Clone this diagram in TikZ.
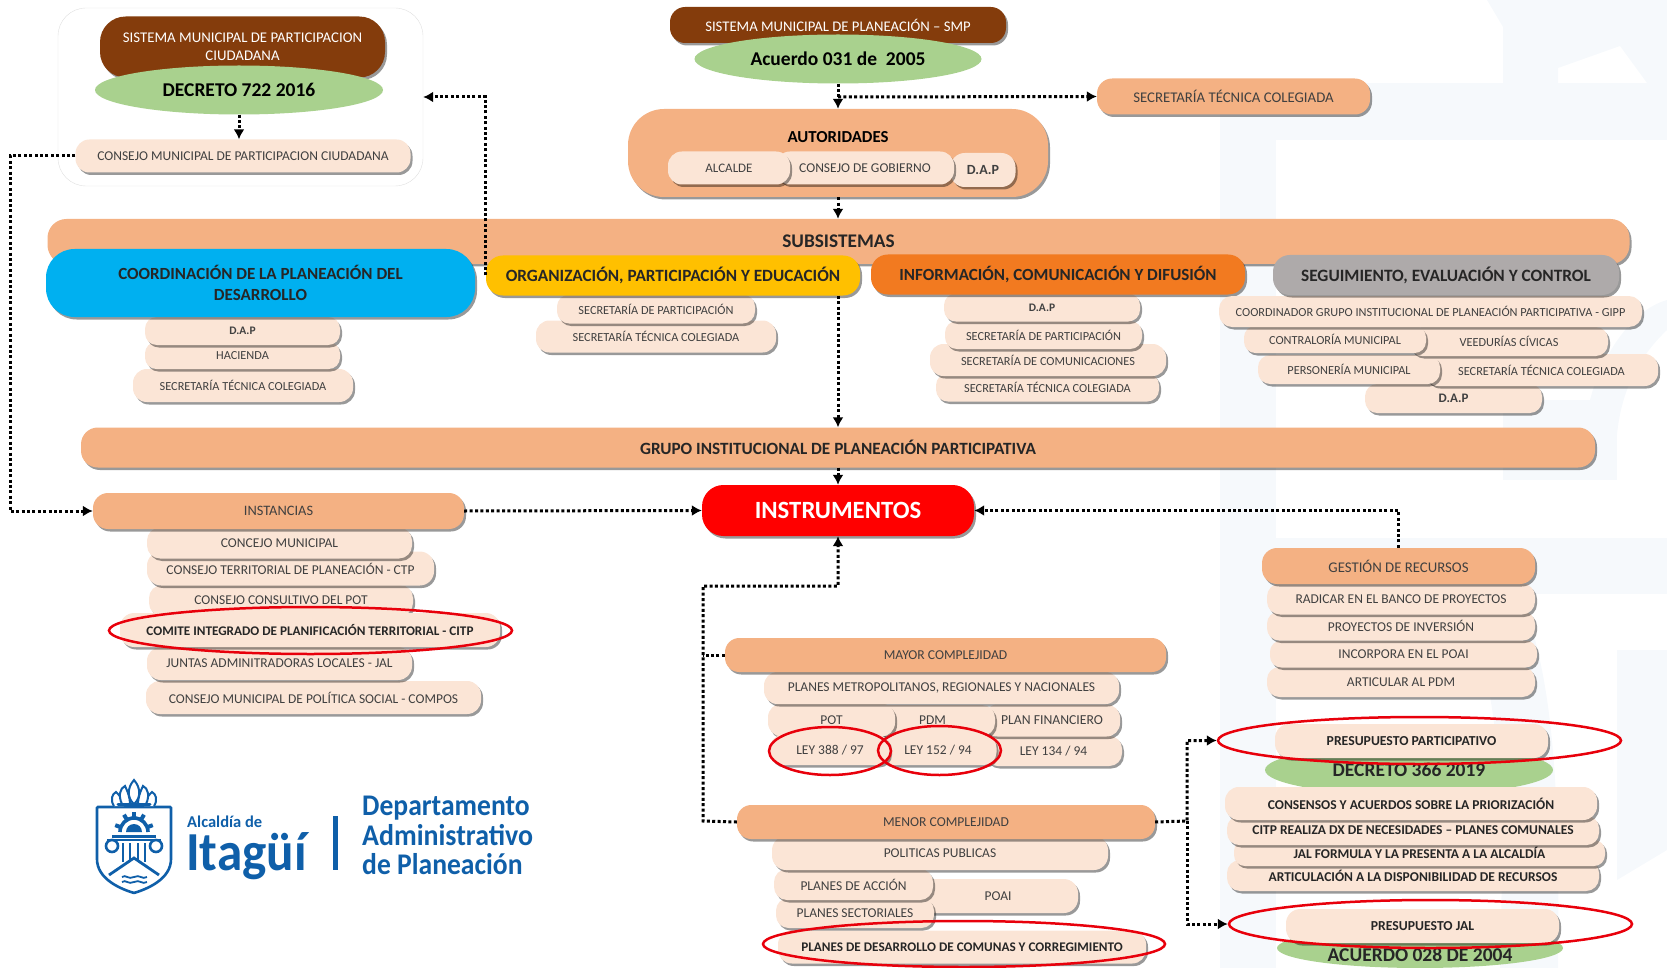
\documentclass[tikz,border=0pt]{standalone}
\usepackage{graphicx}
\usepackage{fontspec}
\setmainfont{Carlito}
\usetikzlibrary{arrows.meta,shapes.geometric,shadows}
\definecolor{apricot}{HTML}{F4B183}
\definecolor{peach}{HTML}{FBE5D6}
\definecolor{bark}{HTML}{843C0C}
\definecolor{leaf}{HTML}{A9D18E}
\definecolor{sky}{HTML}{00B0F0}
\definecolor{sun}{HTML}{FFC000}
\definecolor{tangerine}{HTML}{F27A20}
\definecolor{stone}{HTML}{AEAAAA}
\definecolor{ringred}{HTML}{E8000B}
\definecolor{itablue}{HTML}{0F5FA9}
\definecolor{ghost}{HTML}{F6F9FC}
\definecolor{inkgray}{HTML}{404040}
\tikzset{
  fs/.style={font=\fontsize{#1pt}{1.25\dimexpr#1pt\relax}\selectfont},
  fsb/.style={font=\fontsize{#1pt}{1.25\dimexpr#1pt\relax}\selectfont\bfseries},
  pill/.style 2 args={rectangle,inner sep=0pt,align=center,minimum width=#1,minimum height=#2,
    rounded corners=0.42*#2,
    drop shadow={shadow xshift=2pt,shadow yshift=-2.5pt,fill=black,opacity=0.4}},
  soft/.style 2 args={pill={#1}{#2},fill=peach,text=inkgray},
  head/.style 2 args={pill={#1}{#2},fill=apricot,text=inkgray},
  oval/.style 2 args={ellipse,inner sep=0pt,minimum width=#1,minimum height=#2,fill=leaf},
  ring/.style 2 args={ellipse,inner sep=0pt,minimum width=#1,minimum height=#2,draw=ringred,line width=2.5pt},
  flow/.style={line width=3pt,dash pattern=on 3pt off 2.4pt,-{Latex[length=10pt,width=11pt]}},
  brand/.style={text=itablue,inner sep=0pt,anchor=base west},
}
\begin{document}
\begin{tikzpicture}[x=1pt,y=-1pt]
\useasboundingbox (0,0) rectangle (1667,968);
% watermark
\fill[ghost] (1220,83) rectangle (1667,140);
\fill[ghost] (1220,140) rectangle (1276,968);
\fill[ghost] (1487,0) -- (1503,27) -- (1503,83) -- (1558,83) -- (1558,68) -- (1620,46) -- (1647,83) -- (1667,83) -- (1667,0) -- cycle;
\fill[ghost] (1276,538) rectangle (1667,594);
\fill[ghost] (1503,400) -- (1617,400) -- (1617,480) -- (1503,480) -- cycle;
\fill[ghost] (1617,480) .. controls (1612,420) and (1625,370) .. (1667,330) -- (1667,300) .. controls (1630,310) and (1600,360) .. (1590,400) -- cycle;
\fill[ghost] (1520,594) .. controls (1555,680) and (1560,800) .. (1558,968) -- (1500,968) .. controls (1505,800) and (1500,680) .. (1460,594) -- cycle;
\fill[ghost] (1617,650) -- (1667,650) -- (1667,850) -- (1617,880) -- cycle;

% participacion
\node [rectangle,draw=black!12,rounded corners=28pt,minimum width=365,minimum height=178,fill=white] (boxpart) at (240.5,97) {};
\node [pill={285}{61},fill=bark,text=white,fs=14.8] (smpc) at (242.5,47) {SISTEMA MUNICIPAL DE PARTICIPACION\\CIUDADANA};
\node [oval={288}{49},fsb=19.5] (decreto) at (239,90) {DECRETO 722 2016};
\node [soft={335}{33},fs=13.5] (consejopart) at (243,156) {CONSEJO MUNICIPAL DE PARTICIPACION CIUDADANA};

% planeacion
\node [pill={336}{36},fill=bark,text=white,fs=14.7] (smp) at (838,25) {SISTEMA MUNICIPAL DE PLANEACIÓN – SMP};
\node [oval={287}{49},fs=19.5] (acuerdo) at (838,59) {\textbf{Acuerdo 031 de~~2005}};
\node [head={273}{36},fs=14.8] (colegiada) at (1233.5,96.5) {SECRETARÍA TÉCNICA COLEGIADA};
\node [rectangle,inner sep=0pt,minimum width=420,minimum height=88,rounded corners=36pt,fill=apricot,
  drop shadow={shadow xshift=2pt,shadow yshift=-2.5pt,fill=black,opacity=0.4}] (autoridades) at (838,153) {};
\node [fsb=16.8,inner sep=0pt] (autoridadest) at (838,137) {AUTORIDADES};
\node [soft={65}{34},fsb=14] (dapa) at (983,170) {D.A.P};
\node [soft={178}{33},fs=13.5] (gobierno) at (865,168) {CONSEJO DE GOBIERNO};
\node [soft={122}{33},fs=13] (alcalde) at (729,168) {ALCALDE};

% subsistemas
\node [head={1582}{45},fsb=19.3,text=black!85] (subsistemas) at (838.5,241.5) {SUBSISTEMAS};
\node [soft={220}{33},fs=12.3] (stcb) at (243,385.5) {SECRETARÍA TÉCNICA COLEGIADA};
\node [soft={195}{27},fs=12.3] (hacienda) at (242.5,355.5) {HACIENDA};
\node [soft={195}{28},fsb=11.5] (dapb) at (242.5,331) {D.A.P};
\node [pill={429}{68},fill=sky,text=black!85,fsb=17] (coordinacion) at (260.5,283) {COORDINACIÓN DE LA PLANEACIÓN DEL\\DESARROLLO};

\node [soft={240}{32},fs=12.3] (stcy) at (656,336.5) {SECRETARÍA TÉCNICA COLEGIADA};
\node [soft={198}{29},fs=12.3] (partic) at (656,309) {SECRETARÍA DE PARTICIPACIÓN};
\node [pill={374}{40},fill=sun,text=black!85,fsb=17.2] (organizacion) at (673,275.5) {ORGANIZACIÓN, PARTICIPACIÓN Y EDUCACIÓN};

\node [soft={223}{28},fs=12.3] (stco) at (1047.5,387.5) {SECRETARÍA TÉCNICA COLEGIADA};
\node [soft={236}{32},fs=12.3] (comunic) at (1048,360) {SECRETARÍA DE COMUNICACIONES};
\node [soft={197}{28},fs=12.3] (partico) at (1043.5,335) {SECRETARÍA DE PARTICIPACIÓN};
\node [soft={196}{28},fsb=11.5] (dapo) at (1042,307.5) {D.A.P};
\node [pill={374}{40},fill=tangerine,text=black!85,fsb=17] (informacion) at (1058,274.5) {INFORMACIÓN, COMUNICACIÓN Y DIFUSIÓN};

\node [soft={177}{29},fsb=13] (dapg) at (1453.5,398.5) {D.A.P};
\node [soft={233}{32},fs=12.3] (stcg) at (1541.5,370) {SECRETARÍA TÉCNICA COLEGIADA};
\node [soft={182}{29},fs=12.3] (personeria) at (1349,369.5) {PERSONERÍA MUNICIPAL};
\node [soft={198}{29},fs=12.3] (veedurias) at (1509,341.5) {VEEDURÍAS CÍVICAS};
\node [soft={182}{27},fs=12.3] (contraloria) at (1335,339.5) {CONTRALORÍA MUNICIPAL};
\node [soft={423}{31},fs=12.3] (gipp) at (1430.5,311.5) {COORDINADOR GRUPO INSTITUCIONAL DE PLANEACIÓN PARTICIPATIVA - GIPP};
\node [pill={346}{40},fill=stone,text=black!85,fsb=17.3] (seguimiento) at (1446,275) {SEGUIMIENTO, EVALUACIÓN Y CONTROL};

\node [head={1514}{40},fsb=17.2,text=black!85] (grupo) at (838,447.5) {GRUPO INSTITUCIONAL DE PLANEACIÓN PARTICIPATIVA};

% instancias
\node [soft={335}{33},fs=13.5] (compos) at (313.5,697.5) {CONSEJO MUNICIPAL DE POLÍTICA SOCIAL - COMPOS};
\node [soft={265}{33},fs=13.5] (juntas) at (279.5,663.5) {JUNTAS ADMINITRADORAS LOCALES - JAL};
\node [soft={264}{31},fs=13.5] (consultivo) at (281,600.5) {CONSEJO CONSULTIVO DEL POT};
\node [soft={380}{34},fsb=13.2,text=black!85] (citp) at (310,630) {COMITE INTEGRADO DE PLANIFICACIÓN TERRITORIAL - CITP};
\node [soft={287}{34},fs=13.5] (territorial) at (290.5,568.5) {CONSEJO TERRITORIAL  DE PLANEACIÓN - CTP};
\node [soft={265}{31},fs=13.5] (concejo) at (279.5,543) {CONCEJO MUNICIPAL};
\node [head={371}{36},fs=14.4] (instancias) at (278.5,511) {INSTANCIAS};
\node [ring={403}{47}] (ringcitp) at (310.5,630.5) {};

\node [pill={272}{51},fill=red,text=white,fsb=24.8] (instrumentos) at (838,510.5) {INSTRUMENTOS};

% gestion
\node [soft={268}{30},fs=13.5] (articular) at (1401,682) {ARTICULAR AL PDM};
\node [soft={267}{27},fs=13.5] (poai2) at (1403.5,654) {INCORPORA EN EL POAI};
\node [soft={268}{29},fs=13.5] (proyectos) at (1401,626) {PROYECTOS DE INVERSIÓN};
\node [soft={268}{31},fs=13.5] (radicar) at (1401,599) {RADICAR EN EL BANCO DE PROYECTOS};
\node [head={273}{36},fs=14.8] (gestion) at (1398.5,566) {GESTIÓN DE RECURSOS};

% mayor
\node [soft={137}{30},fs=13.5] (ley134) at (1053.5,751) {LEY 134 / 94};
\node [soft={136}{32},fs=13.7] (planfin) at (1052,720.5) {PLAN FINANCIERO};
\node [soft={125}{31},fs=13.5] (pdm) at (932.5,720.5) {PDM};
\node [soft={117}{30},fs=13.5] (ley152) at (938,750) {LEY 152 / 94};
\node [soft={127}{33},fs=13.5] (pot) at (831.5,720) {POT};
\node [soft={120}{30},fs=13.5] (ley388) at (830,750) {LEY 388 / 97};
\node [soft={355}{32},fs=13.5] (metro) at (941.5,688) {PLANES METROPOLITANOS, REGIONALES Y NACIONALES};
\node [head={441}{34},fs=13.6] (mayor) at (945.5,655) {MAYOR COMPLEJIDAD};
\node [ring={122}{48}] (ring388) at (830,751) {};
\node [ring={123}{49}] (ring152) at (939.5,750.5) {};

% menor
\node [soft={368}{33},fsb=13.2,text=black!85] (comunas) at (962,947) {PLANES DE DESARROLLO DE COMUNAS Y CORREGIMIENTO};
\node [soft={160}{34},fs=13.5] (poai) at (998,896) {POAI};
\node [soft={158}{30},fs=13.5] (sectoriales) at (855,913) {PLANES SECTORIALES};
\node [soft={159}{31},fs=13.5] (accion) at (853.5,884.5) {PLANES DE ACCIÓN};
\node [soft={336}{34},fs=13.5] (politicas) at (940,853) {POLITICAS PUBLICAS};
\node [head={418}{34},fs=13.6] (menor) at (946,822) {MENOR COMPLEJIDAD};
\node [ring={402}{46}] (ringcomunas) at (964,944) {};

% presupuesto
\node [oval={288}{50},fsb=19.5,text=black!85] (dec366) at (1409,770) {DECRETO 366 2019};
\node [soft={273}{34},fsb=13.7,text=black!85] (particip) at (1411.5,741) {PRESUPUESTO PARTICIPATIVO};
\node [ring={403}{47}] (ringpart) at (1419.5,740.5) {};
\node [soft={372}{31},fsb=13.5,text=black!85] (articulacion) at (1413,875.5) {ARTICULACIÓN A LA DISPONIBILIDAD DE RECURSOS};
\node [soft={371}{26},fsb=13.5,text=black!85] (jalform) at (1419.5,853) {JAL FORMULA Y LA PRESENTA A LA ALCALDÍA};
\node [soft={372}{29},fsb=13.5,text=black!85] (citpdx) at (1413,830.5) {CITP REALIZA DX DE NECESIDADES – PLANES COMUNALES};
\node [soft={372}{33},fsb=13.5,text=black!85] (consensos) at (1411,803.5) {CONSENSOS Y ACUERDOS SOBRE LA PRIORIZACIÓN};
\node [oval={286}{40},fsb=19.5,text=black!85] (ac028) at (1420,948) {\raisebox{-13pt}[0pt][0pt]{ACUERDO 028 DE 2004}};
\node [soft={273}{34},fsb=13.7,text=black!85] (presjal) at (1422.5,926) {PRESUPUESTO JAL};
\node [ring={403}{48}] (ringjal) at (1430.5,924) {};

% conectores
\coordinate (leftrail) at (10,156);
\coordinate (smpfork) at (838,97);
\coordinate (backrail) at (703,821);
\coordinate (toprail) at (703,586);
\coordinate (rightrail) at (1187,821);
\draw [flow] (decreto.south) -- (decreto.south |- consejopart.north);
\draw [flow] (consejopart.west) -- (leftrail) |- (instancias.west);
\draw [flow] (organizacion.west) |- (boxpart.east);
\draw [flow] (acuerdo.south) -- (autoridades.north);
\draw [flow] (smpfork) -- (colegiada.west);
\draw [flow] (autoridades.south) -- (autoridades.south |- subsistemas.north);
\draw [flow] (organizacion.south -| grupo.north) -- (grupo.north);
\draw [flow] (grupo.south) -- (instrumentos.north);
\draw [flow] (instancias.east) -- (instrumentos.west);
\draw [flow] (gestion.north) |- (instrumentos.east);
\draw [flow] (menor.west) -- (backrail) -- (toprail) -| (instrumentos.south);
\draw [flow,-] (mayor.west) -- (mayor.west -| toprail);
\draw [flow] (menor.east) -- (rightrail) |- (ringpart.west);
\draw [flow] (rightrail) |- (ringjal.west);

% logo
\begin{scope}[draw=itablue,fill=itablue]
\draw [line width=2.6pt,fill=white,rounded corners=1pt] (97,807) -- (171,807) -- (171,858) .. controls (171,878) and (150,888) .. (134,893) .. controls (118,888) and (97,878) .. (97,858) -- cycle;
\draw [line width=2pt,fill=white] (114,806) .. controls (110,800) and (112,794) .. (116,792) .. controls (120,796) and (124,800) .. (124,806);
\draw [line width=2pt,fill=white] (154,806) .. controls (158,800) and (156,794) .. (152,792) .. controls (148,796) and (144,800) .. (144,806);
\draw [line width=2pt,fill=white] (122,804) .. controls (118,796) and (120,788) .. (125,786) .. controls (128,792) and (130,798) .. (130,804);
\draw [line width=2pt,fill=white] (146,804) .. controls (150,796) and (148,788) .. (143,786) .. controls (140,792) and (138,798) .. (138,804);
\draw [line width=2pt,fill=white] (134,780) .. controls (127,788) and (127,798) .. (134,804) .. controls (141,798) and (141,788) .. (134,780) -- cycle;
\draw [line width=3pt,line cap=round] (118,804) -- (150,804);
\draw [line width=3.6pt] (120,832) arc [start angle=180,end angle=0,radius=14pt];
\foreach \gearang in {20,60,90,120,160} \draw [line width=4pt] (134,832) ++(\gearang:14pt) -- ++(\gearang:6pt);
\fill (126,832) arc [start angle=180,end angle=0,radius=8pt] -- cycle;
\draw [line width=3pt] (112,836) -- (156,836);
\draw [line width=2.6pt] (107,840) -- (161,840);
\draw [line width=2.6pt,fill=white] (112,846) circle [radius=6pt];
\draw [line width=2.6pt,fill=white] (156,846) circle [radius=6pt];
\foreach \colx in {123,130,138,145} \draw [line width=2.2pt] (\colx,843) -- (\colx,862);
\draw [line width=2.8pt] (109,875) -- (134,858) -- (159,875);
\draw [line width=1.8pt] (122,877) .. controls (126,874) and (128,880) .. (134,877) .. controls (140,874) and (142,880) .. (147,877);
\draw [line width=1.8pt] (122,882) .. controls (126,879) and (128,885) .. (134,882) .. controls (140,879) and (142,885) .. (147,882);
\end{scope}
\node [brand,fsb=16.5] (alcaldia) at (187,827) {Alcaldía de};
\node [brand,fsb=55] (itagui) at (186,870) {\scalebox{0.93}[1]{Itagüí}};
\fill [itablue] (333,816) rectangle (338,870);
\node [brand,fsb=30] (depto) at (362,815) {\scalebox{0.92}[1]{Departamento}};
\node [brand,fsb=30] (admin) at (362,845) {\scalebox{0.93}[1]{Administrativo}};
\node [brand,fsb=30] (deplan) at (362,874) {\scalebox{0.92}[1]{de Planeación}};
\end{tikzpicture}
\end{document}
